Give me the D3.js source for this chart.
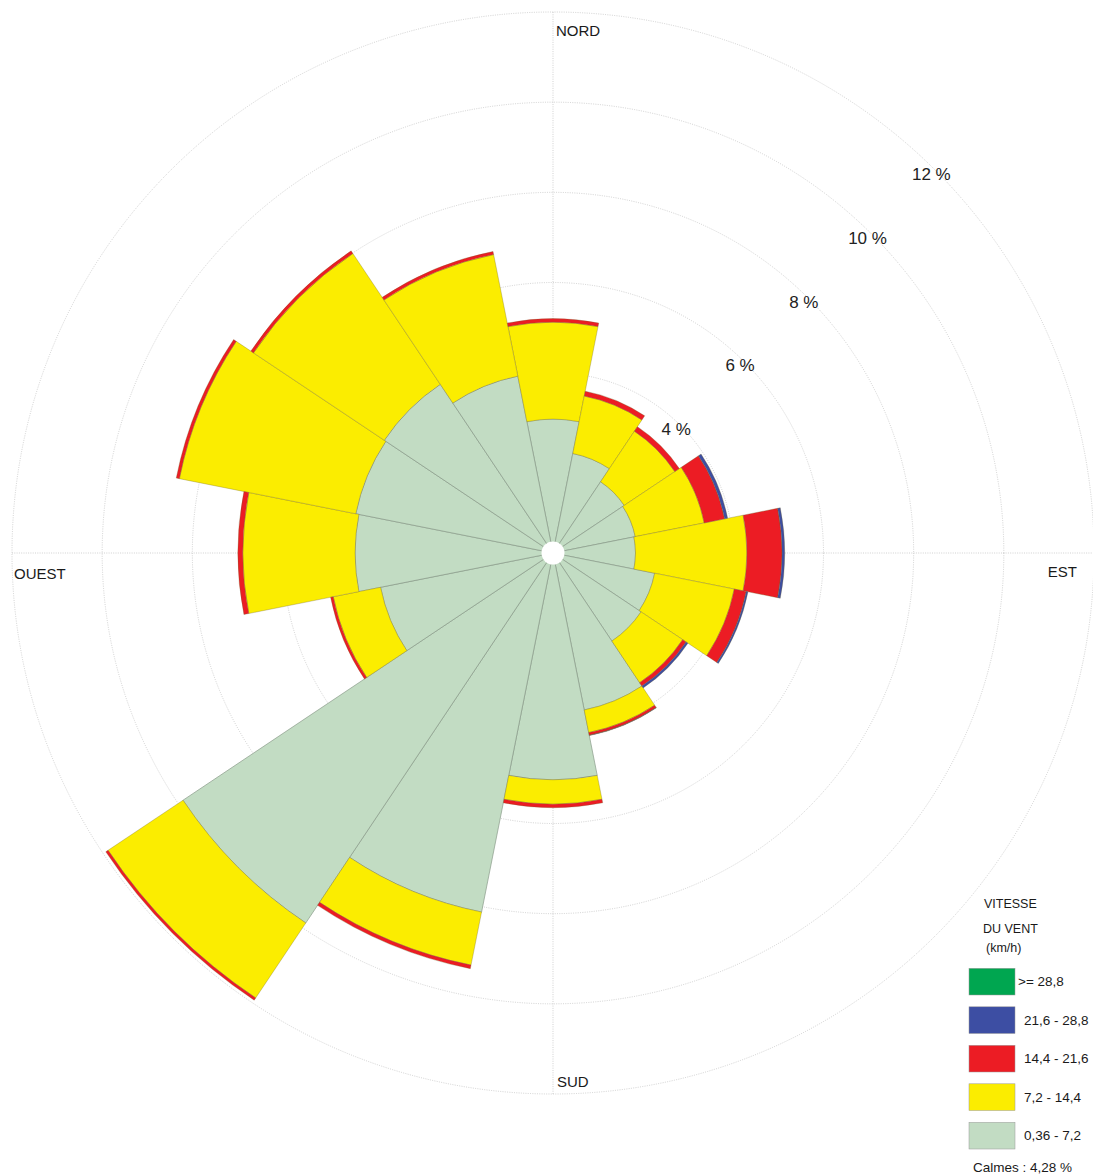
<!DOCTYPE html>
<html>
<head>
<meta charset="utf-8">
<script src="https://cdn.jsdelivr.net/npm/d3@7"></script>
<style>
  body { margin: 0; background: #fff; }
  svg { display: block; font-family: "Liberation Sans", Arial, Helvetica, sans-serif; }
</style>
</head>
<body>
<svg id="rose" width="1093" height="1175"></svg>
<script>
// 16 sectors, clockwise from north
const directions = ["N", "NNE", "NE", "ENE", "E", "ESE", "SE", "SSE",
                    "S", "SSW", "SW", "WSW", "W", "WNW", "NW", "NNW"];

// frequency (%) per speed class
const speed036to72 = [2.97, 2.25, 1.90, 1.86, 1.83, 2.30, 2.35, 3.55, 5.03, 8.12, 9.87, 3.90, 4.39, 4.46, 4.50, 4.00];
const speed72to144 = [2.15, 1.30, 1.35, 1.56, 2.47, 1.80, 1.11, 0.51, 0.54, 1.20, 2.00, 1.07, 2.49, 3.99, 3.49, 2.75];
const speed144to216 = [0.08, 0.11, 0.12, 0.46, 0.78, 0.27, 0.09, 0.06, 0.08, 0.08, 0.06, 0.06, 0.11, 0.07, 0.07, 0.07];
const speed216to288 = [0, 0, 0, 0.07, 0.06, 0.04, 0.05, 0.01, 0, 0, 0, 0, 0, 0, 0, 0];
const speed288up = [0, 0, 0, 0, 0, 0, 0, 0, 0, 0, 0, 0, 0, 0, 0, 0];

const classLabels = ["0,36 - 7,2", "7,2 - 14,4", "14,4 - 21,6", "21,6 - 28,8", ">= 28,8"];
const classColors = ["#c2dcc3", "#fbed00", "#ec1c24", "#3d4ea3", "#00a650"];
const calmText = "Calmes : 4,28 %";

const ringTicks = [2, 4, 6, 8, 10, 12];
const ringLabelTicks = [4, 6, 8, 10, 12];
const compassLabels = ["NORD", "EST", "SUD", "OUEST"];

const svg = d3.select("#rose");
const cx = 553, cy = 553;

const r = d3.scaleLinear().domain([0, 12]).range([0, 541]);
const angle = d3.scaleLinear().domain([0, directions.length]).range([0, 2 * Math.PI]);
const halfStep = Math.PI / directions.length;

const g = svg.append("g").attr("transform", `translate(${cx},${cy})`);

// grid
const grid = g.append("g")
  .attr("fill", "none")
  .attr("stroke", "#bdbdbd")
  .attr("stroke-width", 0.7)
  .attr("stroke-dasharray", "1,1.3");

grid.selectAll("circle")
  .data(ringTicks)
  .join("circle")
  .attr("r", (d) => r(d));

grid.append("line").attr("x1", -r(12)).attr("x2", r(12)).attr("y1", 0).attr("y2", 0);
grid.append("line").attr("y1", -r(12)).attr("y2", r(12)).attr("x1", 0).attr("x2", 0);

// stacked sectors
const classSeries = [speed036to72, speed72to144, speed144to216, speed216to288, speed288up];
const segments = [];
directions.forEach((dir, i) => {
  let base = 0;
  classSeries.forEach((series, k) => {
    const v = series[i];
    if (v > 0) {
      segments.push({ dir, i, k, inner: base, outer: base + v });
    }
    base += v;
  });
});

const arc = d3.arc()
  .innerRadius((d) => r(d.inner))
  .outerRadius((d) => r(d.outer))
  .startAngle((d) => angle(d.i) - halfStep)
  .endAngle((d) => angle(d.i) + halfStep);

// draw class by class so outer bands sit above inner ones
g.append("g")
  .selectAll("path")
  .data(segments.sort((a, b) => a.k - b.k))
  .join("path")
  .attr("d", arc)
  .attr("fill", (d) => classColors[d.k])
  .attr("stroke", (d) => (d.k === 0 ? "#8a9b8a" : "rgba(110,100,40,0.45)"))
  .attr("stroke-width", 0.7);

// hole in the middle
g.append("circle").attr("r", 11.5).attr("fill", "#fff");

// ring labels along the NE diagonal
g.append("g")
  .selectAll("text")
  .data(ringLabelTicks)
  .join("text")
  .attr("x", (d) => (r(d) - 6) * Math.SQRT1_2)
  .attr("y", (d) => -(r(d) - 6) * Math.SQRT1_2)
  .attr("text-anchor", "middle")
  .attr("dominant-baseline", "central")
  .attr("font-size", 17)
  .attr("fill", "#222")
  .text((d) => `${d} %`);

// compass labels
const compassPos = [
  { x: 3, y: 36 - cy, anchor: "start" },
  { x: 1077 - cx, y: 577 - cy, anchor: "end" },
  { x: 4, y: 1087 - cy, anchor: "start" },
  { x: 14 - cx, y: 579 - cy, anchor: "start" }
];
g.append("g")
  .selectAll("text")
  .data(compassLabels)
  .join("text")
  .attr("x", (d, i) => compassPos[i].x)
  .attr("y", (d, i) => compassPos[i].y)
  .attr("text-anchor", (d, i) => compassPos[i].anchor)
  .attr("font-size", 15)
  .attr("fill", "#1a1a1a")
  .text((d) => d);

// legend
const legend = svg.append("g").attr("fill", "#1a1a1a");
legend.append("text").attr("x", 984).attr("y", 908).attr("font-size", 12.5).text("VITESSE");
legend.append("text").attr("x", 983).attr("y", 933).attr("font-size", 12.5).text("DU VENT");
legend.append("text").attr("x", 986).attr("y", 952).attr("font-size", 12.5).text("(km/h)");

const legendOrder = d3.range(classLabels.length).reverse();
const rows = legend.selectAll("g.row")
  .data(legendOrder)
  .join("g")
  .attr("class", "row")
  .attr("transform", (d, j) => `translate(969,${968.3 + j * 38.5})`);

rows.append("rect")
  .attr("width", 46)
  .attr("height", 26.7)
  .attr("fill", (k) => classColors[k])
  .attr("stroke", "#999")
  .attr("stroke-width", 0.5);

rows.append("text")
  .attr("x", (k) => (k === 4 ? 49 : 55))
  .attr("y", 18)
  .attr("font-size", 13.5)
  .text((k) => classLabels[k]);

legend.append("text").attr("x", 973).attr("y", 1171.5).attr("font-size", 13.5).text(calmText);
</script>
</body>
</html>
